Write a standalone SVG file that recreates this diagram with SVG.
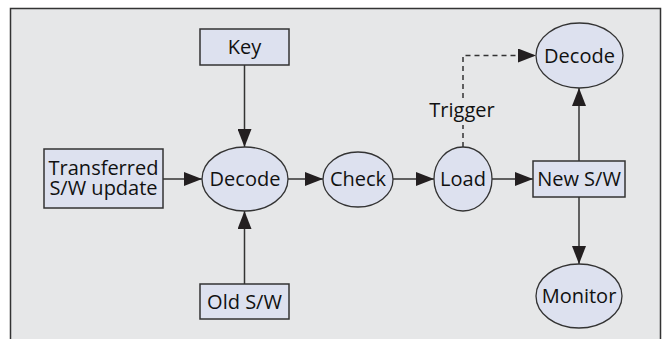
<svg xmlns="http://www.w3.org/2000/svg" width="668" height="339" viewBox="0 0 668 339">
  <defs>
    <marker id="arrow" markerWidth="18" markerHeight="14" refX="18" refY="7" orient="auto" markerUnits="userSpaceOnUse">
      <path d="M0,0 L18,7 L0,14 Z" fill="#231f20"/>
    </marker>
    <style>
      .box { fill: #dde1ef; stroke: #333; stroke-width: 1.5; }
      .oval { fill: #dde1ef; stroke: #333; stroke-width: 1.3; }
      .lbl { font-family: "Open Sans", "Noto Sans", sans-serif; font-size: 20px; fill: #111; text-anchor: middle; }
      .edge { fill: none; stroke: #333; stroke-width: 1.5; }
      .dash { stroke-dasharray: 5 4; }
    </style>
  </defs>

  <!-- panel background -->
  <rect x="0" y="0" width="668" height="339" fill="#ffffff"/>
  <path d="M10.5,339 L10.5,8.5 L660.5,8.5 L660.5,339" fill="#e6e7e8" stroke="#333" stroke-width="1.5"/>

  <!-- connectors -->
  <g id="connectors">
    <line class="edge" x1="244.5" y1="65" x2="244.5" y2="147" marker-end="url(#arrow)"/>
    <line class="edge" x1="244.5" y1="284" x2="244.5" y2="211" marker-end="url(#arrow)"/>
    <line class="edge" x1="163" y1="179" x2="202" y2="179" marker-end="url(#arrow)"/>
    <line class="edge" x1="288" y1="179" x2="323" y2="179" marker-end="url(#arrow)"/>
    <line class="edge" x1="393" y1="179" x2="434" y2="179" marker-end="url(#arrow)"/>
    <line class="edge" x1="492" y1="179" x2="533" y2="179" marker-end="url(#arrow)"/>
    <line class="edge" x1="579" y1="161" x2="579" y2="88" marker-end="url(#arrow)"/>
    <line class="edge" x1="579" y1="197" x2="579" y2="264" marker-end="url(#arrow)"/>
    <polyline class="edge dash" points="463,147 463,125"/>
    <polyline class="edge dash" points="463,98 463,55.5 536,55.5" marker-end="url(#arrow)"/>
    <text class="lbl" x="462" y="117">Trigger</text>
  </g>

  <g id="key">
    <rect class="box" x="200" y="29" width="89" height="36"/>
    <text class="lbl" x="244.5" y="54">Key</text>
  </g>

  <g id="transferred">
    <rect class="box" x="44" y="149" width="119" height="59"/>
    <text class="lbl" x="103.5" y="174.5">Transferred</text>
    <text class="lbl" x="103.5" y="195">S/W update</text>
  </g>

  <g id="decode-main">
    <ellipse class="oval" cx="245" cy="179" rx="43" ry="32"/>
    <text class="lbl" x="245" y="186">Decode</text>
  </g>

  <g id="old-sw">
    <rect class="box" x="200" y="284" width="89" height="35"/>
    <text class="lbl" x="244.5" y="308.5">Old S/W</text>
  </g>

  <g id="check">
    <ellipse class="oval" cx="358" cy="179.5" rx="35" ry="27.5"/>
    <text class="lbl" x="358" y="186">Check</text>
  </g>

  <g id="load">
    <ellipse class="oval" cx="463" cy="179" rx="29" ry="32"/>
    <text class="lbl" x="463" y="186">Load</text>
  </g>

  <g id="new-sw">
    <rect class="box" x="533" y="161" width="92" height="36"/>
    <text class="lbl" x="579" y="186">New S/W</text>
  </g>

  <g id="decode-new">
    <ellipse class="oval" cx="579.5" cy="55.5" rx="43.5" ry="32.5"/>
    <text class="lbl" x="579.5" y="62.5">Decode</text>
  </g>

  <g id="monitor">
    <ellipse class="oval" cx="579" cy="296" rx="43" ry="32"/>
    <text class="lbl" x="579" y="303">Monitor</text>
  </g>
</svg>
